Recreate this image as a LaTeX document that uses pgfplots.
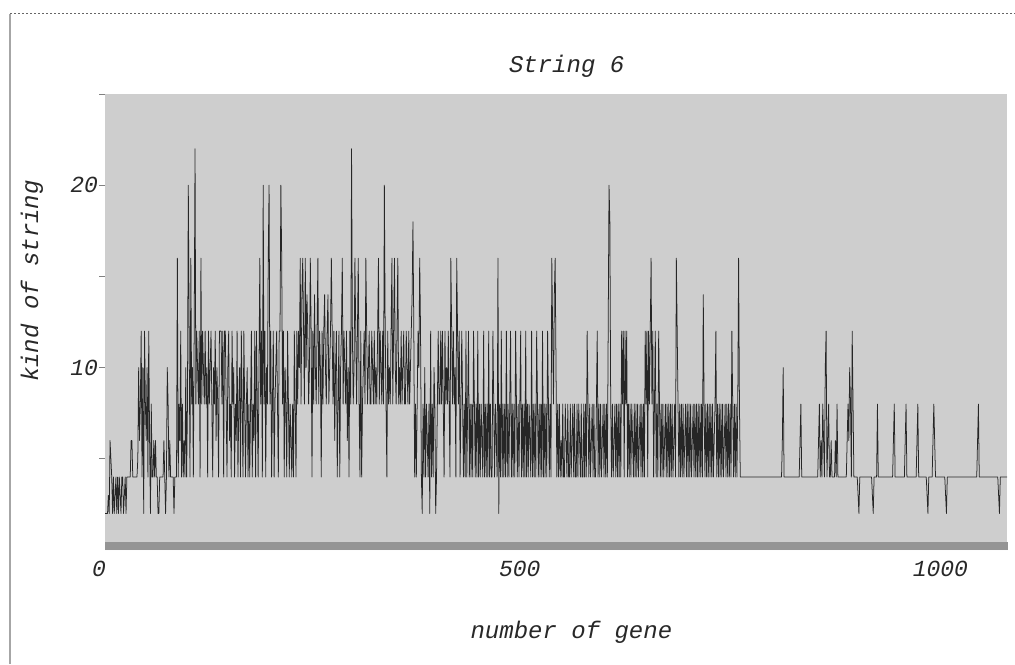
\documentclass[border=0pt]{standalone}
\usepackage{pgfplots}
\pgfplotsset{compat=1.18}
\usepackage{fontspec}
\setmainfont{Liberation Mono}
\definecolor{stipple}{RGB}{206,206,206}
\definecolor{ink}{RGB}{40,40,40}

\begin{document}
\begin{tikzpicture}[font=\fontsize{12bp}{14bp}\selectfont\itshape, x=1bp, y=1bp]
\useasboundingbox (0,0) rectangle (507.5,332);
\draw[gray!70, line width=1bp] (5,0) -- (5,325);
\draw[gray!80!black, line width=0.5bp, dash pattern=on 1bp off 1bp] (5,325) -- (507.5,325);
\begin{axis}[
  at={(52.5bp,57bp)}, anchor=south west, scale only axis,
  width=451bp, height=228bp,
  xmin=0, xmax=1072, ymin=0, ymax=25,
  axis background/.style={fill=stipple},
  axis line style={draw=none},
  xtick pos=lower, ytick pos=left,
  xtick={0,500,1000},
  minor xtick={0,1,...,1072},
  ytick={5,10,15,20,25},
  yticklabels={,10,,20,},
  tick align=inside,
  major tick length=-3bp,
  minor tick length=4bp,
  major x tick style={draw=none},
  minor x tick style={draw=black!42, line width=0.18bp},
  major y tick style={draw=gray, line width=0.4bp},
  /pgf/number format/assume math mode=true,
  /pgf/number format/1000 sep={},
  ticklabel style={font=\fontsize{11.5bp}{13bp}\selectfont\itshape, text=ink},
  xticklabel style={xshift=-3bp, yshift=-2bp},
]
\addplot[black!85, line width=0.38bp, line join=round, mark=none]
  table[row sep=\\, header=false, x expr=\coordindex, y index=0] {
2\\2\\2\\2\\3\\2\\6\\5\\4\\2\\
4\\2\\3\\4\\2\\4\\2\\4\\3\\2\\
4\\4\\2\\3\\4\\2\\4\\4\\4\\4\\
4\\6\\6\\4\\4\\4\\4\\4\\4\\5\\
10\\6\\8\\12\\4\\10\\2\\12\\8\\6\\
10\\4\\12\\6\\2\\8\\4\\4\\6\\4\\
6\\4\\4\\2\\2\\4\\4\\4\\4\\4\\
6\\4\\2\\4\\10\\8\\4\\6\\4\\4\\
4\\4\\2\\4\\4\\4\\16\\4\\8\\6\\
12\\4\\8\\4\\6\\4\\10\\4\\8\\20\\
12\\4\\16\\8\\10\\4\\12\\22\\8\\12\\
10\\8\\12\\4\\16\\8\\12\\10\\8\\12\\
8\\10\\4\\12\\8\\10\\12\\8\\4\\10\\
8\\12\\6\\10\\8\\4\\12\\12\\12\\8\\
12\\4\\12\\12\\8\\4\\10\\12\\6\\8\\
4\\12\\8\\10\\4\\8\\6\\12\\4\\8\\
10\\4\\12\\8\\4\\12\\8\\4\\8\\10\\
4\\8\\4\\8\\12\\4\\8\\6\\12\\4\\
12\\8\\4\\10\\16\\8\\12\\4\\20\\8\\
12\\4\\10\\8\\16\\20\\8\\12\\4\\8\\
12\\4\\8\\10\\12\\8\\4\\12\\12\\20\\
16\\8\\12\\4\\10\\8\\4\\12\\8\\4\\
8\\6\\4\\8\\4\\12\\8\\4\\12\\8\\
12\\10\\16\\8\\14\\16\\12\\8\\16\\10\\
14\\12\\8\\10\\16\\12\\4\\12\\8\\14\\
10\\8\\12\\16\\8\\12\\10\\4\\12\\8\\
12\\14\\10\\8\\12\\14\\8\\10\\12\\16\\
12\\8\\12\\6\\10\\12\\4\\8\\12\\4\\
10\\12\\16\\8\\12\\10\\8\\12\\6\\10\\
4\\12\\8\\22\\12\\8\\10\\16\\12\\8\\
12\\16\\8\\4\\12\\4\\8\\10\\12\\8\\
16\\12\\8\\10\\12\\8\\8\\12\\10\\8\\
12\\8\\10\\8\\12\\16\\8\\12\\10\\8\\
12\\8\\20\\12\\8\\4\\12\\8\\10\\8\\
12\\16\\8\\12\\16\\10\\8\\12\\16\\8\\
10\\8\\12\\8\\10\\12\\8\\8\\12\\10\\
8\\12\\8\\10\\12\\14\\18\\12\\4\\8\\
4\\8\\12\\10\\16\\12\\4\\2\\8\\4\\
10\\4\\8\\6\\4\\8\\2\\12\\4\\8\\
4\\10\\8\\2\\4\\8\\12\\8\\8\\12\\
8\\12\\8\\4\\12\\8\\10\\8\\12\\8\\
4\\16\\12\\8\\12\\8\\10\\4\\16\\12\\
8\\12\\4\\8\\12\\8\\4\\8\\4\\12\\
4\\8\\12\\4\\8\\4\\8\\4\\12\\8\\
4\\8\\4\\12\\4\\8\\4\\8\\6\\4\\
12\\4\\8\\4\\8\\4\\12\\4\\8\\4\\
4\\12\\8\\4\\8\\6\\4\\16\\2\\8\\
4\\12\\4\\8\\4\\8\\4\\12\\4\\8\\
4\\8\\12\\4\\8\\4\\8\\4\\12\\8\\
4\\8\\4\\8\\12\\4\\8\\4\\8\\4\\
12\\4\\8\\4\\8\\6\\4\\12\\4\\8\\
4\\8\\4\\12\\8\\4\\8\\4\\8\\4\\
12\\4\\8\\4\\8\\4\\12\\8\\4\\8\\
4\\16\\12\\8\\14\\16\\10\\4\\8\\4\\
8\\4\\6\\4\\8\\4\\4\\8\\6\\4\\
8\\4\\4\\8\\4\\6\\8\\4\\8\\4\\
4\\8\\4\\8\\6\\4\\8\\4\\4\\8\\
4\\8\\4\\12\\8\\4\\8\\4\\6\\8\\
4\\8\\4\\4\\8\\12\\4\\8\\4\\8\\
4\\6\\8\\4\\8\\4\\8\\4\\12\\20\\
18\\8\\4\\8\\4\\6\\8\\4\\8\\4\\
8\\4\\8\\4\\12\\8\\12\\4\\12\\8\\
12\\4\\8\\4\\8\\4\\8\\6\\4\\8\\
4\\8\\4\\8\\4\\6\\8\\4\\8\\4\\
8\\4\\12\\8\\12\\4\\12\\8\\12\\16\\
8\\12\\4\\8\\12\\4\\8\\4\\12\\8\\
4\\8\\4\\8\\4\\6\\8\\4\\8\\4\\
8\\4\\8\\4\\8\\4\\6\\8\\4\\16\\
12\\8\\4\\8\\4\\8\\4\\8\\4\\6\\
8\\4\\8\\4\\8\\4\\8\\4\\6\\8\\
4\\8\\4\\8\\4\\8\\4\\8\\4\\8\\
4\\14\\8\\4\\8\\4\\8\\4\\8\\4\\
8\\4\\8\\4\\6\\8\\12\\4\\8\\4\\
8\\4\\8\\4\\8\\4\\6\\8\\4\\8\\
4\\8\\4\\8\\4\\12\\8\\4\\8\\4\\
8\\4\\8\\16\\8\\4\\4\\4\\4\\4\\
4\\4\\4\\4\\4\\4\\4\\4\\4\\4\\
4\\4\\4\\4\\4\\4\\4\\4\\4\\4\\
4\\4\\4\\4\\4\\4\\4\\4\\4\\4\\
4\\4\\4\\4\\4\\4\\4\\4\\4\\4\\
4\\4\\4\\4\\4\\6\\10\\4\\4\\4\\
4\\4\\4\\4\\4\\4\\4\\4\\4\\4\\
4\\4\\4\\4\\4\\4\\6\\8\\4\\4\\
4\\4\\4\\4\\4\\4\\4\\4\\4\\4\\
4\\4\\4\\4\\4\\4\\4\\4\\6\\8\\
4\\6\\4\\8\\6\\4\\10\\12\\4\\6\\
8\\4\\4\\6\\4\\4\\4\\4\\6\\4\\
8\\4\\4\\4\\4\\4\\4\\4\\4\\4\\
4\\4\\6\\8\\6\\10\\8\\4\\12\\8\\
4\\4\\4\\4\\4\\3\\2\\4\\4\\4\\
4\\4\\4\\4\\4\\4\\4\\4\\4\\4\\
4\\4\\3\\2\\4\\4\\4\\4\\8\\4\\
4\\4\\4\\4\\4\\4\\4\\4\\4\\4\\
4\\4\\4\\4\\4\\4\\4\\6\\8\\4\\
4\\4\\4\\4\\4\\4\\4\\4\\4\\4\\
4\\6\\8\\4\\4\\4\\4\\4\\4\\4\\
4\\4\\4\\4\\4\\6\\8\\4\\4\\4\\
4\\4\\4\\4\\4\\4\\4\\3\\2\\4\\
4\\4\\4\\4\\6\\8\\6\\4\\4\\4\\
4\\4\\4\\4\\4\\4\\4\\4\\4\\3\\
2\\4\\4\\4\\4\\4\\4\\4\\4\\4\\
4\\4\\4\\4\\4\\4\\4\\4\\4\\4\\
4\\4\\4\\4\\4\\4\\4\\4\\4\\4\\
4\\4\\4\\4\\4\\4\\4\\6\\8\\4\\
4\\4\\4\\4\\4\\4\\4\\4\\4\\4\\
4\\4\\4\\4\\4\\4\\4\\4\\4\\4\\
4\\4\\3\\2\\4\\4\\4\\4\\4\\4\\
4\\4\\4\\
};
\end{axis}
\node[anchor=base, text=ink] at (283.3,296) {String 6};
\node[anchor=base, text=ink] at (285.7,13) {number of gene};
\node[anchor=base, rotate=90, text=ink] at (19,191.5) {kind of string};
\end{tikzpicture}
\end{document}
